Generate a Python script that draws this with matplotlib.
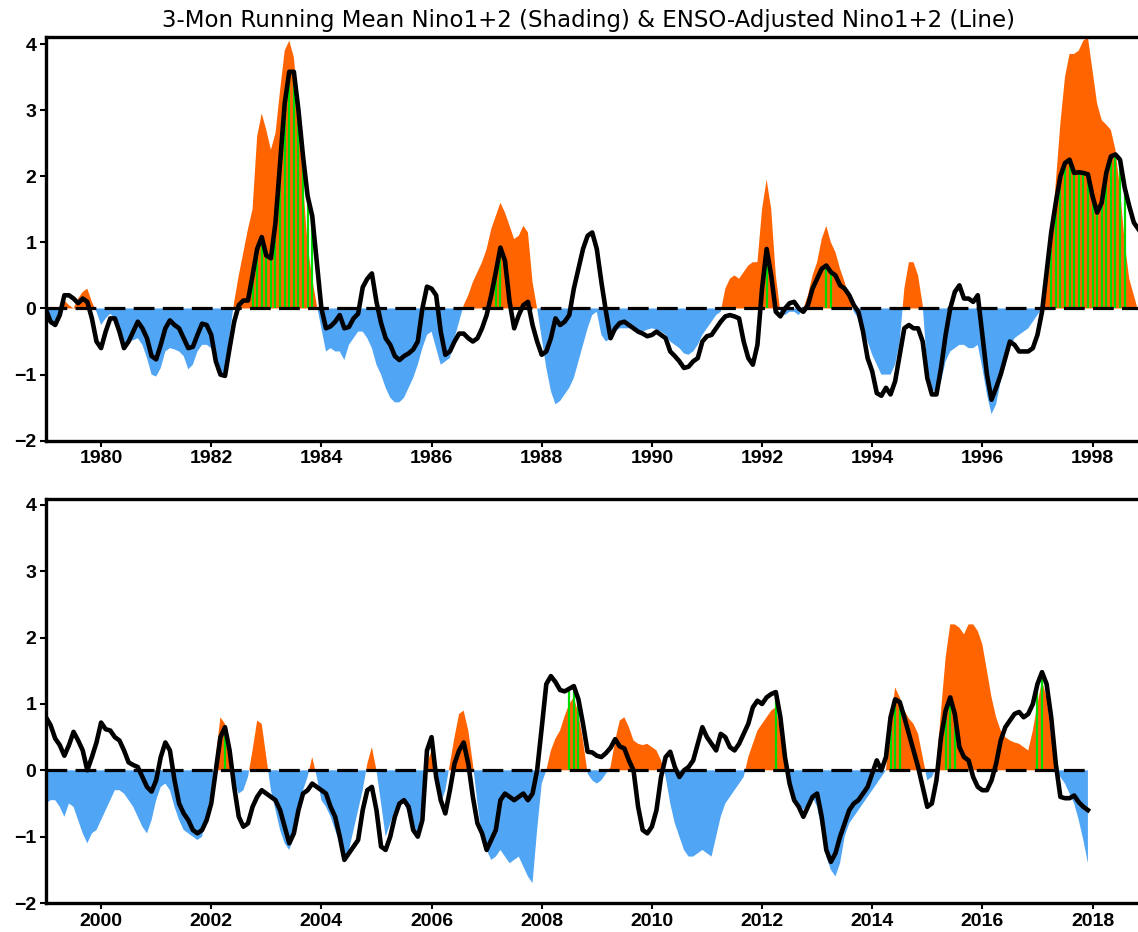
import numpy as np
import matplotlib
matplotlib.use("Agg")
import matplotlib.pyplot as plt

# ---------------- data (monthly) ----------------
top_start_year = 1979
bot_start_year = 1999

shade_top = [
    -0.15, -0.25, -0.25, -0.05, 0.12, 0.05, 0.0, 0.15, 0.25, 0.3, 0.1, -0.05,      # 1979
    -0.25, -0.15, -0.08, -0.15, -0.35, -0.55, -0.5, -0.48, -0.45, -0.55, -0.75, -1.0,  # 1980
    -1.03, -0.9, -0.65, -0.6, -0.62, -0.65, -0.72, -0.92, -0.85, -0.65, -0.55, -0.55,  # 1981
    -0.6, -0.8, -0.95, -1.0, -0.4, 0.1, 0.5, 0.85, 1.2, 1.5, 2.6, 2.95,            # 1982
    2.7, 2.4, 2.65, 3.3, 3.9, 4.05, 3.8, 3.0, 1.9, 0.95, 0.45, 0.05,               # 1983
    -0.3, -0.65, -0.6, -0.65, -0.65, -0.78, -0.55, -0.45, -0.35, -0.35, -0.45, -0.6,  # 1984
    -0.85, -1.0, -1.2, -1.35, -1.42, -1.42, -1.35, -1.2, -1.05, -0.85, -0.6, -0.4,  # 1985
    -0.35, -0.6, -0.85, -0.8, -0.75, -0.45, -0.2, 0.05, 0.2, 0.4, 0.55, 0.7,        # 1986
    0.9, 1.2, 1.4, 1.6, 1.45, 1.25, 1.05, 1.1, 1.25, 1.15, 0.4, 0.0,               # 1987
    -0.45, -0.9, -1.25, -1.45, -1.4, -1.3, -1.2, -1.05, -0.8, -0.55, -0.3, -0.1,   # 1988
    -0.05, -0.4, -0.5, -0.45, -0.35, -0.3, -0.3, -0.3, -0.3, -0.32, -0.35, -0.32,   # 1989
    -0.3, -0.32, -0.35, -0.4, -0.5, -0.55, -0.6, -0.68, -0.7, -0.65, -0.55, -0.4,   # 1990
    -0.3, -0.2, -0.1, -0.05, 0.3, 0.45, 0.5, 0.45, 0.55, 0.65, 0.7, 0.7,           # 1991
    1.5, 1.95, 1.5, 0.5, -0.05, -0.1, -0.05, -0.05, -0.1, 0.0, 0.2, 0.5,           # 1992
    0.7, 1.05, 1.25, 1.0, 0.85, 0.6, 0.4, 0.15, -0.05, -0.15, -0.3, -0.5,          # 1993
    -0.7, -0.85, -1.0, -1.0, -1.0, -0.85, -0.5, 0.3, 0.7, 0.7, 0.5, 0.05,          # 1994
    -0.9, -1.2, -1.3, -1.1, -0.8, -0.65, -0.6, -0.55, -0.55, -0.6, -0.6, -0.55,     # 1995
    -0.9, -1.3, -1.6, -1.45, -1.1, -0.8, -0.6, -0.45, -0.4, -0.35, -0.3, -0.2,      # 1996
    -0.1, 0.0, 0.45, 1.0, 1.9, 2.8, 3.5, 3.85, 3.85, 3.9, 4.05, 4.1,               # 1997
    3.6, 3.1, 2.85, 2.78, 2.7, 2.4, 1.8, 1.0, 0.45, 0.2, -0.05, -0.1,              # 1998
]

line_top = [
    -0.02, -0.2, -0.25, -0.1, 0.2, 0.2, 0.15, 0.08, 0.15, 0.1, -0.15, -0.5,        # 1979
    -0.6, -0.35, -0.15, -0.15, -0.35, -0.6, -0.5, -0.35, -0.2, -0.3, -0.45, -0.72,  # 1980
    -0.77, -0.55, -0.3, -0.18, -0.25, -0.3, -0.45, -0.6, -0.58, -0.4, -0.23, -0.25, # 1981
    -0.4, -0.8, -1.0, -1.02, -0.6, -0.2, 0.05, 0.12, 0.12, 0.5, 0.9, 1.08,         # 1982
    0.8, 0.76, 1.3, 2.2, 3.1, 3.58, 3.58, 3.0, 2.3, 1.7, 1.4, 0.7,                 # 1983
    0.0, -0.3, -0.27, -0.2, -0.1, -0.3, -0.28, -0.15, -0.08, 0.32, 0.45, 0.53,      # 1984
    0.1, -0.22, -0.45, -0.55, -0.72, -0.78, -0.72, -0.68, -0.62, -0.5, 0.0, 0.33,   # 1985
    0.3, 0.2, -0.35, -0.7, -0.65, -0.5, -0.38, -0.38, -0.45, -0.5, -0.45, -0.3,     # 1986
    -0.1, 0.2, 0.55, 0.92, 0.72, 0.1, -0.3, -0.1, 0.05, 0.1, -0.25, -0.5,          # 1987
    -0.7, -0.65, -0.45, -0.15, -0.25, -0.2, -0.1, 0.3, 0.6, 0.9, 1.1, 1.15,        # 1988
    0.9, 0.4, -0.05, -0.45, -0.3, -0.22, -0.2, -0.25, -0.3, -0.35, -0.38, -0.42,    # 1989
    -0.4, -0.35, -0.4, -0.45, -0.65, -0.72, -0.8, -0.9, -0.88, -0.8, -0.75, -0.5,   # 1990
    -0.42, -0.4, -0.3, -0.2, -0.12, -0.1, -0.12, -0.15, -0.5, -0.75, -0.85, -0.55,  # 1991
    0.3, 0.9, 0.5, -0.05, -0.12, 0.0, 0.08, 0.1, 0.0, -0.05, 0.05, 0.3,            # 1992
    0.45, 0.6, 0.65, 0.55, 0.5, 0.35, 0.3, 0.2, 0.05, -0.05, -0.35, -0.75,         # 1993
    -0.95, -1.28, -1.32, -1.2, -1.3, -1.1, -0.7, -0.3, -0.25, -0.3, -0.3, -0.5,     # 1994
    -1.05, -1.3, -1.3, -0.9, -0.4, 0.0, 0.25, 0.35, 0.15, 0.15, 0.1, 0.2,          # 1995
    -0.4, -1.0, -1.38, -1.2, -1.0, -0.75, -0.5, -0.55, -0.65, -0.65, -0.65, -0.6,   # 1996
    -0.4, -0.05, 0.55, 1.15, 1.6, 2.0, 2.2, 2.25, 2.05, 2.06, 2.05, 2.03,          # 1997
    1.7, 1.45, 1.6, 2.05, 2.3, 2.33, 2.25, 1.83, 1.55, 1.3, 1.2, 1.1,              # 1998
]

shade_bot = [
    -0.5, -0.45, -0.45, -0.55, -0.7, -0.5, -0.55, -0.75, -0.95, -1.1, -0.95, -0.9,  # 1999
    -0.75, -0.6, -0.45, -0.3, -0.3, -0.35, -0.45, -0.55, -0.7, -0.85, -0.95, -0.75, # 2000
    -0.45, -0.25, -0.2, -0.3, -0.55, -0.75, -0.9, -0.95, -1.0, -1.05, -1.0, -0.7,   # 2001
    -0.3, 0.2, 0.8, 0.7, 0.3, -0.2, -0.35, -0.3, -0.1, 0.3, 0.75, 0.7,             # 2002
    0.2, -0.3, -0.6, -0.9, -1.1, -1.2, -1.0, -0.6, -0.3, -0.1, 0.2, -0.1,          # 2003
    -0.45, -0.55, -0.7, -0.9, -1.1, -1.3, -1.2, -0.9, -0.6, -0.3, 0.1, 0.35,       # 2004
    0.0, -0.5, -1.0, -0.8, -0.6, -0.45, -0.5, -0.65, -0.85, -0.95, -0.5, 0.1,      # 2005
    0.3, -0.1, -0.5, -0.3, 0.1, 0.5, 0.85, 0.9, 0.6, 0.1, -0.5, -1.0,              # 2006
    -1.2, -1.35, -1.3, -1.2, -1.3, -1.4, -1.35, -1.3, -1.45, -1.6, -1.7, -0.9,     # 2007
    -0.2, 0.0, 0.3, 0.48, 0.6, 0.82, 1.0, 1.1, 0.85, 0.45, -0.05, -0.15,           # 2008
    -0.2, -0.15, -0.05, 0.05, 0.45, 0.75, 0.8, 0.65, 0.45, 0.4, 0.38, 0.4,         # 2009
    0.35, 0.3, 0.15, -0.1, -0.5, -0.8, -1.0, -1.2, -1.3, -1.3, -1.25, -1.2,        # 2010
    -1.25, -1.3, -1.0, -0.7, -0.5, -0.4, -0.3, -0.2, -0.1, 0.2, 0.4, 0.6,          # 2011
    0.7, 0.8, 0.9, 0.95, 0.6, 0.1, -0.2, -0.4, -0.5, -0.6, -0.5, -0.4,             # 2012
    -0.55, -0.9, -1.3, -1.5, -1.6, -1.4, -1.0, -0.8, -0.7, -0.6, -0.5, -0.4,       # 2013
    -0.3, -0.2, -0.1, 0.0, 0.7, 1.25, 1.1, 0.9, 0.78, 0.7, 0.55, 0.2,              # 2014
    -0.15, -0.1, 0.05, 0.9, 1.7, 2.2, 2.2, 2.15, 2.05, 2.2, 2.2, 2.1,              # 2015
    1.9, 1.5, 1.1, 0.8, 0.6, 0.5, 0.45, 0.42, 0.4, 0.35, 0.3, 0.6,                 # 2016
    1.0, 1.35, 1.1, 0.5, 0.0, -0.1, -0.2, -0.35, -0.5, -0.75, -1.05, -1.4,         # 2017
]

line_bot = [
    0.8, 0.68, 0.48, 0.38, 0.22, 0.38, 0.58, 0.45, 0.3, 0.0, 0.2, 0.42,            # 1999
    0.72, 0.62, 0.6, 0.5, 0.45, 0.3, 0.12, 0.08, 0.05, -0.1, -0.25, -0.32,         # 2000
    -0.15, 0.2, 0.42, 0.3, -0.15, -0.5, -0.65, -0.75, -0.9, -0.95, -0.9, -0.75,    # 2001
    -0.5, 0.0, 0.5, 0.65, 0.3, -0.25, -0.7, -0.85, -0.8, -0.55, -0.4, -0.3,        # 2002
    -0.35, -0.4, -0.45, -0.6, -0.85, -1.1, -0.95, -0.6, -0.35, -0.3, -0.2, -0.25,  # 2003
    -0.3, -0.35, -0.55, -0.7, -1.0, -1.35, -1.25, -1.15, -1.05, -0.6, -0.3, -0.25, # 2004
    -0.6, -1.15, -1.2, -1.0, -0.7, -0.5, -0.45, -0.55, -0.9, -1.0, -0.75, 0.3,     # 2005
    0.5, -0.1, -0.45, -0.65, -0.3, 0.1, 0.3, 0.42, 0.1, -0.4, -0.8, -0.95,         # 2006
    -1.2, -1.05, -0.9, -0.45, -0.35, -0.4, -0.45, -0.4, -0.35, -0.45, -0.35, 0.0,  # 2007
    0.64, 1.3, 1.42, 1.33, 1.21, 1.19, 1.23, 1.27, 1.07, 0.7, 0.28, 0.27,          # 2008
    0.22, 0.2, 0.26, 0.34, 0.47, 0.36, 0.33, 0.15, 0.0, -0.55, -0.9, -0.95,        # 2009
    -0.85, -0.6, -0.1, 0.2, 0.28, 0.05, -0.1, 0.0, 0.05, 0.15, 0.4, 0.65,          # 2010
    0.5, 0.4, 0.3, 0.55, 0.5, 0.35, 0.3, 0.4, 0.55, 0.7, 0.95, 1.05,               # 2011
    1.0, 1.1, 1.15, 1.18, 0.8, 0.2, -0.2, -0.45, -0.55, -0.7, -0.55, -0.4,         # 2012
    -0.35, -0.7, -1.2, -1.38, -1.25, -1.0, -0.8, -0.6, -0.5, -0.45, -0.35, -0.25,  # 2013
    -0.05, 0.15, 0.0, 0.2, 0.8, 1.07, 1.03, 0.8, 0.55, 0.3, 0.05, -0.25,           # 2014
    -0.55, -0.5, -0.15, 0.5, 0.9, 1.1, 0.85, 0.35, 0.2, 0.15, -0.1, -0.25,         # 2015
    -0.3, -0.3, -0.15, 0.1, 0.45, 0.65, 0.75, 0.85, 0.88, 0.8, 0.85, 1.0,          # 2016
    1.3, 1.48, 1.3, 0.8, 0.1, -0.4, -0.42, -0.42, -0.38, -0.48, -0.55, -0.6,       # 2017
]

# months (year, month) marked with green bars
green_top = [(1982, m) for m in range(10, 13)] + [(1983, m) for m in range(1, 12)] + \
            [(1987, 3), (1987, 4), (1992, 2), (1993, 3), (1993, 4)] + \
            [(1997, m) for m in range(4, 13)] + [(1998, m) for m in range(1, 9)]
green_bot = [(2002, 4), (2008, 7), (2008, 8), (2008, 9), (2012, 4),
             (2014, 5), (2014, 6), (2014, 7), (2015, 5), (2015, 6), (2015, 7),
             (2017, 1), (2017, 2)]

year_ticks_top = list(range(1980, 1999, 2))
year_ticks_bot = list(range(2000, 2019, 2))
y_ticks = [-2, -1, 0, 1, 2, 3, 4]

title = "3-Mon Running Mean Nino1+2 (Shading) & ENSO-Adjusted Nino1+2 (Line)"

# ---------------- styling ----------------
ORANGE = "#FF6400"
BLUE = "#50A5F5"
GREEN = "#00DC00"
W, H = 1138, 932
plt.rcParams['font.family'] = ['DejaVu Sans']
TICK_FONT = ['Liberation Sans', 'DejaVu Sans']

fig = plt.figure(figsize=(W / 100, H / 100), dpi=100)


def make_axes(top_px, bot_px):
    left = 46 / W
    right = 1143 / W
    return fig.add_axes([left, 1 - bot_px / H, right - left, (bot_px - top_px) / H])


def draw_panel(ax, start_year, shade, line, green, ticks, ymax):
    n = len(shade)
    t = start_year + np.arange(n) / 12.0
    s = np.array(shade)
    l = np.array(line)
    ax.fill_between(t, 0, s, where=s >= 0, interpolate=True, color=ORANGE, lw=0, zorder=1)
    ax.fill_between(t, 0, s, where=s <= 0, interpolate=True, color=BLUE, lw=0, zorder=1)
    for (yy, mm) in green:
        k = (yy - start_year) * 12 + (mm - 1)
        if 0 <= k < n:
            ax.plot([t[k], t[k]], [0, l[k]], color=GREEN, lw=1.6, zorder=2,
                    solid_capstyle='butt')
    ax.plot(t, np.zeros(n), color='black', lw=2.3, dashes=(6.5, 2.6), zorder=3,
            dash_capstyle='butt')
    ax.plot(t, l, color='black', lw=3.3, zorder=4, solid_joinstyle='round')
    ax.set_xlim(start_year, start_year + 239 / 12.0)
    ax.set_ylim(-2, ymax)
    ax.set_xticks(ticks)
    ax.set_xticklabels([str(v) for v in ticks])
    ax.set_yticks(y_ticks)
    ax.set_yticklabels([("\u2212" + str(-v)) if v < 0 else str(v) for v in y_ticks])
    for side in ['left', 'top', 'bottom']:
        ax.spines[side].set_linewidth(2.4)
    ax.spines['right'].set_visible(False)
    ax.tick_params(axis='both', direction='out', length=4, width=1.5, pad=3)
    for lab in ax.get_xticklabels() + ax.get_yticklabels():
        lab.set_fontweight('bold')
        lab.set_family(TICK_FONT)
        lab.set_fontsize(14)


ax1 = make_axes(37, 440.7)
draw_panel(ax1, top_start_year, shade_top, line_top, green_top, year_ticks_top, 4.106)
ax2 = make_axes(499, 903)
draw_panel(ax2, bot_start_year, shade_bot, line_bot, green_bot, year_ticks_bot, 4.09)

fig.text(589 / W, 1 - 20 / H, title, ha='center', va='center', fontsize=16.5)

fig.savefig("out.png", dpi=100)
